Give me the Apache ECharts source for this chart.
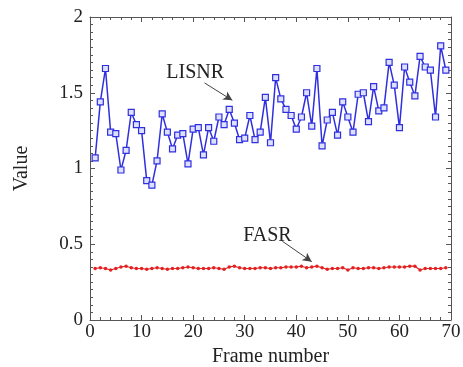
<!DOCTYPE html>
<html>
<head>
<meta charset="utf-8">
<script src="https://cdn.jsdelivr.net/npm/echarts@6/dist/echarts.min.js"></script>
<style>
  html, body { margin: 0; padding: 0; background: #fff; }
  #chart { width: 463px; height: 367px; }
</style>
</head>
<body>
<div id="chart"></div>
<script>
// frame numbers 1..69
const frames = [
  1, 2, 3, 4, 5, 6, 7, 8, 9, 10, 11, 12, 13, 14, 15, 16, 17, 18, 19, 20,
  21, 22, 23, 24, 25, 26, 27, 28, 29, 30, 31, 32, 33, 34, 35, 36, 37, 38, 39, 40,
  41, 42, 43, 44, 45, 46, 47, 48, 49, 50, 51, 52, 53, 54, 55, 56, 57, 58, 59, 60,
  61, 62, 63, 64, 65, 66, 67, 68, 69
]

const lisnr = [
  1.07, 1.44, 1.66, 1.24, 1.23, 0.99, 1.12, 1.37, 1.29, 1.25,
  0.92, 0.89, 1.05, 1.36, 1.24, 1.13, 1.22, 1.23, 1.03, 1.26,
  1.27, 1.09, 1.27, 1.18, 1.34, 1.29, 1.39, 1.30, 1.19, 1.20,
  1.35, 1.19, 1.24, 1.47, 1.17, 1.60, 1.46, 1.39, 1.35, 1.26,
  1.34, 1.50, 1.28, 1.66, 1.15, 1.32, 1.37, 1.22, 1.44, 1.34,
  1.24, 1.49, 1.50, 1.31, 1.54, 1.38, 1.40, 1.70, 1.55, 1.27,
  1.67, 1.57, 1.48, 1.74, 1.67, 1.65, 1.34, 1.81, 1.65
]

const fasr = [
  0.34, 0.345, 0.34, 0.33, 0.34, 0.35, 0.355, 0.345, 0.34, 0.34,
  0.335, 0.34, 0.345, 0.34, 0.335, 0.34, 0.34, 0.345, 0.35, 0.345,
  0.34, 0.34, 0.34, 0.345, 0.34, 0.335, 0.35, 0.355, 0.345, 0.34,
  0.34, 0.34, 0.345, 0.345, 0.34, 0.345, 0.345, 0.35, 0.35, 0.35,
  0.355, 0.345, 0.35, 0.355, 0.345, 0.335, 0.34, 0.34, 0.345, 0.33,
  0.345, 0.34, 0.34, 0.345, 0.345, 0.34, 0.345, 0.35, 0.35, 0.35,
  0.35, 0.355, 0.355, 0.33, 0.34, 0.34, 0.34, 0.34, 0.345
]

const xTicks = [0, 10, 20, 30, 40, 50, 60, 70]
const yTicks = [0, 0.5, 1, 1.5, 2]

// annotation positions in data space
const lisnrLabel = [20.4, 1.63]
const lisnrArrow = [[22.2, 1.565], [27.6, 1.45]]
const fasrLabel = [34.4, 0.555]
const fasrArrow = [[37.3, 0.52], [43.0, 0.385]]

const font = "Liberation Serif"
const axisColor = "#555"

const chart = echarts.init(document.getElementById("chart"))

const baseAxis = {
  type: "value",
  axisLine: { show: true, onZero: false, lineStyle: { color: axisColor, width: 1 } },
  axisTick: { show: true, inside: true, length: 5, lineStyle: { color: axisColor } },
  minorTick: { show: true, length: 3, lineStyle: { color: axisColor } },
  splitLine: { show: false },
}

chart.setOption({
  animation: false,
  backgroundColor: "#fff",
  grid: { left: 90, right: 12, top: 17, bottom: 47, outerBoundsMode: "none", containLabel: false },
  xAxis: [
    {
      ...baseAxis,
      min: xTicks[0],
      max: xTicks[xTicks.length - 1],
      interval: 10,
      minorTick: { ...baseAxis.minorTick, splitNumber: 5 },
      axisLabel: { color: "#222", fontFamily: font, fontSize: 19, margin: 3 },
      name: "Frame number",
      nameLocation: "middle",
      nameGap: 23,
      nameTextStyle: { color: "#222", fontFamily: font, fontSize: 20 },
    },
    {
      ...baseAxis,
      position: "top",
      min: xTicks[0],
      max: xTicks[xTicks.length - 1],
      interval: 10,
      minorTick: { ...baseAxis.minorTick, splitNumber: 5 },
      axisLabel: { show: false },
    },
  ],
  yAxis: [
    {
      ...baseAxis,
      min: yTicks[0],
      max: yTicks[yTicks.length - 1],
      interval: 0.5,
      minorTick: { ...baseAxis.minorTick, splitNumber: 10 },
      axisLabel: { color: "#222", fontFamily: font, fontSize: 19, margin: 7 },
      name: "Value",
      nameLocation: "middle",
      nameGap: 58,
      nameTextStyle: { color: "#222", fontFamily: font, fontSize: 20 },
    },
    {
      ...baseAxis,
      position: "right",
      min: yTicks[0],
      max: yTicks[yTicks.length - 1],
      interval: 0.5,
      minorTick: { ...baseAxis.minorTick, splitNumber: 10 },
      axisLabel: { show: false },
    },
  ],
  series: [
    {
      name: "LISNR",
      type: "line",
      data: frames.map((f, i) => [f, lisnr[i]]),
      symbol: "rect",
      symbolSize: 6,
      lineStyle: { color: "#2f2fe0", width: 1.5 },
      itemStyle: { color: "#dde0ff", borderColor: "#2f2fe0", borderWidth: 1.2 },
      markPoint: {
        symbol: "circle",
        symbolSize: 0,
        silent: true,
        label: { show: true, formatter: "LISNR", color: "#222", fontFamily: font, fontSize: 20 },
        data: [{ coord: lisnrLabel }],
      },
      markLine: {
        silent: true,
        symbol: ["none", "arrow"],
        symbolSize: [7, 9],
        label: { show: false },
        lineStyle: { color: "#444", width: 1, type: "solid" },
        data: [[{ coord: lisnrArrow[0] }, { coord: lisnrArrow[1] }]],
      },
    },
    {
      name: "FASR",
      type: "line",
      data: frames.map((f, i) => [f, fasr[i]]),
      symbol: "circle",
      symbolSize: 3.5,
      lineStyle: { color: "#e52020", width: 1.2 },
      itemStyle: { color: "#e52020" },
      markPoint: {
        symbol: "circle",
        symbolSize: 0,
        silent: true,
        label: { show: true, formatter: "FASR", color: "#222", fontFamily: font, fontSize: 20 },
        data: [{ coord: fasrLabel }],
      },
      markLine: {
        silent: true,
        symbol: ["none", "arrow"],
        symbolSize: [7, 9],
        label: { show: false },
        lineStyle: { color: "#444", width: 1, type: "solid" },
        data: [[{ coord: fasrArrow[0] }, { coord: fasrArrow[1] }]],
      },
    },
  ],
})
</script>
</body>
</html>
